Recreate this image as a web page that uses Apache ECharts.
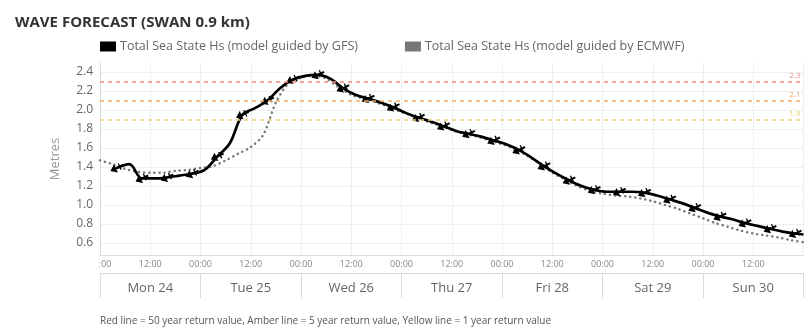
<!DOCTYPE html>
<html>
<head>
<meta charset="utf-8">
<script src="https://cdn.jsdelivr.net/npm/echarts@6/dist/echarts.min.js"></script>
<style>
html,body{margin:0;padding:0;background:#fff;}
#chart{width:805px;height:330px;}
</style>
</head>
<body>
<div id="chart"></div>
<script>
// hours since Mon 24 00:00
const gfsHours = [4,7,10,13,16,19,22,25,28,31,34,37,40,43,46,49,52,55,58,61,64,67,70,73,76,79,82,85,88,91,94,97,100,103,106,109,112,115,118,121,124,127,130,133,136,139,142,145,148,151,154,157,160,163,166,168];
const gfsValues = [1.39,1.43,1.28,1.28,1.29,1.31,1.33,1.37,1.51,1.65,1.95,2.02,2.10,2.23,2.32,2.36,2.37,2.33,2.23,2.16,2.12,2.08,2.03,1.97,1.92,1.88,1.83,1.78,1.75,1.72,1.68,1.64,1.58,1.50,1.41,1.33,1.26,1.20,1.16,1.14,1.14,1.14,1.13,1.10,1.06,1.02,0.97,0.92,0.88,0.85,0.81,0.78,0.75,0.72,0.70,0.69];
const ecmwfHours = [0,3,6,9,12,15,18,21,24,27,30,33,36,39,42,45,48,51,54,57,60,63,66,69,72,75,78,81,84,87,90,93,96,99,102,105,108,111,114,117,120,123,126,129,132,135,138,141,144,147,150,153,156,159,162,165,168];
const ecmwfValues = [1.47,1.43,1.38,1.35,1.34,1.34,1.36,1.37,1.39,1.41,1.47,1.54,1.61,1.74,2.08,2.28,2.34,2.36,2.33,2.24,2.16,2.12,2.08,2.03,1.98,1.93,1.88,1.84,1.79,1.75,1.72,1.68,1.64,1.59,1.52,1.44,1.34,1.27,1.20,1.15,1.12,1.10,1.09,1.07,1.04,1.00,0.96,0.91,0.86,0.81,0.77,0.73,0.70,0.68,0.66,0.63,0.61];
const days = ['Mon 24','Tue 25','Wed 26','Thu 27','Fri 28','Sat 29','Sun 30'];
const yTicks = [0.6,0.8,1.0,1.2,1.4,1.6,1.8,2.0,2.2,2.4];
const thresholdValues = [2.3, 2.1, 1.9];
const thresholdColors = ['#ef8a8a', '#f0aa6a', '#f2cf6a'];
const seriesNames = ['Total Sea State Hs (model guided by GFS)', 'Total Sea State Hs (model guided by ECMWF)'];

const gfsData = gfsHours.map((h, i) => [h, gfsValues[i]]);
const ecmwfData = ecmwfHours.map((h, i) => [h, ecmwfValues[i]]);

const arrowPath = 'path://M0,5L7,0.5L7,9.5Z M7,4L16,4L16,6L7,6Z M11,1.5L12.5,1.5L12.5,8.5L11,8.5Z';

const chart = echarts.init(document.getElementById('chart'), null, {renderer: 'canvas'});
chart.setOption({
  animation: false,
  textStyle: {fontFamily: 'Open Sans'},
  title: [
    {text: 'WAVE FORECAST (SWAN 0.9 km)', left: 10, top: 10,
     textStyle: {fontSize: 15, fontWeight: 'bold', color: '#333', fontFamily: 'Open Sans'}},
    {text: 'Red line = 50 year return value, Amber line = 5 year return value, Yellow line = 1 year return value',
     left: 100, top: 316, padding: 0,
     textStyle: {fontSize: 10, fontWeight: 'normal', color: '#555', fontFamily: 'Open Sans'}}
  ],
  legend: {
    left: 100, top: 40, padding: 0,
    itemWidth: 16, itemHeight: 10, itemGap: 47, icon: 'rect',
    textStyle: {fontSize: 12.5, color: '#666', fontFamily: 'Open Sans', padding: [0,0,0,-1]},
    data: [
      {name: seriesNames[0], itemStyle: {color: '#000'}},
      {name: seriesNames[1], itemStyle: {color: '#777'}}
    ]
  },
  grid: {left: 100, right: 1.5, top: 63, bottom: 75, containLabel: false},
  xAxis: [
    {
      type: 'value', min: 0, max: 168, interval: 12,
      axisLine: {show: true, lineStyle: {color: '#dcdcdc'}},
      axisTick: {show: false},
      axisLabel: {fontSize: 9, color: '#888', margin: 5, showMaxLabel: false,
        formatter: v => (v % 24 === 0 ? '00:00' : '12:00')},
      splitLine: {show: true, lineStyle: {color: '#efefef'}}
    },
    {
      type: 'category', data: days, position: 'bottom', offset: 18, boundaryGap: true,
      axisLine: {show: true, lineStyle: {color: '#dcdcdc'}},
      axisTick: {show: true, interval: 0, length: 25, lineStyle: {color: '#dcdcdc'}},
      axisLabel: {fontSize: 13, color: '#666', margin: 9, interval: 0},
      splitLine: {show: false}
    }
  ],
  yAxis: {
    type: 'value', min: 0.474, max: 2.495,
    name: 'Metres', nameLocation: 'middle', nameGap: 38,
    nameTextStyle: {fontSize: 13, color: '#999'},
    axisLine: {show: true, lineStyle: {color: '#dcdcdc'}},
    axisTick: {show: false, customValues: yTicks},
    axisLabel: {fontSize: 12, color: '#666', margin: 7, customValues: yTicks,
      formatter: v => v.toFixed(1)},
    splitLine: {show: true, lineStyle: {color: '#efefef'}}
  },
  graphic: [
    {type: 'rect', shape: {x: 78, y: 257, width: 21.5, height: 14}, style: {fill: '#fff'}, z: 100}
  ],
  series: [
    {
      name: seriesNames[1], type: 'line', data: ecmwfData, smooth: 0.3,
      showSymbol: false, symbol: 'none',
      lineStyle: {color: '#777', width: 2.5, type: [0.1, 5], cap: 'round'},
      itemStyle: {color: '#777'}, z: 2
    },
    {
      name: seriesNames[0], type: 'line', data: gfsData, smooth: 0.35,
      showSymbol: true,
      symbol: (val) => ((val[0] - 4) % 6 === 0 ? arrowPath : 'none'),
      symbolSize: [14, 9], symbolRotate: 25,
      lineStyle: {color: '#000', width: 2.7},
      itemStyle: {color: '#000'}, z: 3,
      markLine: {
        silent: true, symbol: 'none',
        data: thresholdValues.map((v, i) => ({
          yAxis: v,
          lineStyle: {color: thresholdColors[i], type: [4, 4], width: 1.5},
          label: {show: true, position: 'insideEndTop', formatter: v.toFixed(1),
                  color: thresholdColors[i], fontSize: 8, distance: [3, 2]}
        }))
      }
    }
  ]
});
</script>
</body>
</html>
